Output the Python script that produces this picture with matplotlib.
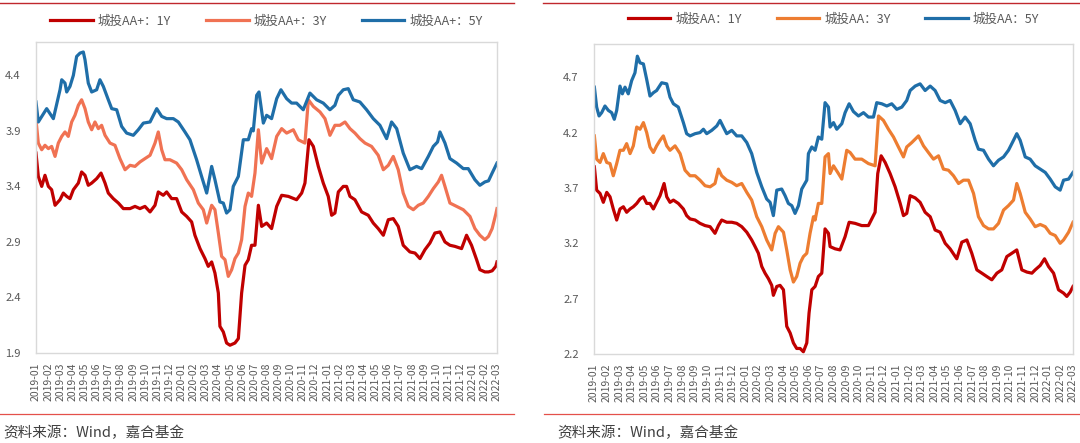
import matplotlib
matplotlib.use("Agg")
import matplotlib.pyplot as plt
from matplotlib.lines import Line2D
import pandas as pd

plt.rcParams['font.family'] = ['Noto Sans CJK SC', 'DejaVu Sans']

# x 轴：月份标签（2019-01 .. 2022-03），数据的 x 为距 2019-01 的月数
months = list(pd.date_range('2019-01-01', '2022-03-01', freq='MS').strftime('%Y-%m'))

# ---- 左图：城投AA+ ----
aap_1y_x = [0.00, 0.19, 0.47, 0.74, 1.02, 1.29, 1.57, 1.98, 2.25, 2.53, 2.80, 3.08, 3.49, 3.76, 4.04, 4.31,
            4.59, 5.00, 5.36, 5.69, 5.96, 6.37, 6.79, 7.20, 7.75, 8.16, 8.57, 8.98, 9.40, 9.81, 10.08, 10.49,
            10.77, 11.18, 11.59, 12.01, 12.42, 12.83, 13.10, 13.52, 13.93, 14.20, 14.48, 14.75, 15.03, 15.16,
            15.44, 15.71, 15.99, 16.40, 16.68, 16.95, 17.23, 17.50, 17.77, 18.05,
            18.33, 18.60, 19.01, 19.42, 19.84, 20.25, 20.80, 21.48, 21.90, 22.17, 22.50, 22.86, 23.27, 23.68,
            24.09, 24.37, 24.64, 24.92, 25.33, 25.60, 25.88, 26.29, 26.84, 27.39, 27.80, 28.21, 28.63, 29.04,
            29.45, 29.86, 30.27, 30.82, 31.24, 31.65, 32.06, 32.47, 32.88, 33.30, 33.71, 34.12, 34.53, 35.08,
            35.49, 35.90, 36.32, 36.59, 37.00, 37.30, 37.60, 37.90, 38.00]
aap_1y = [3.70, 3.49, 3.40, 3.50, 3.40, 3.37, 3.23, 3.28, 3.34, 3.31, 3.29, 3.37, 3.43, 3.53, 3.50, 3.41,
          3.43, 3.47, 3.52, 3.43, 3.34, 3.29, 3.25, 3.20, 3.20, 3.22, 3.20, 3.22, 3.17, 3.23, 3.35, 3.32,
          3.35, 3.29, 3.29, 3.17, 3.13, 3.08, 2.96, 2.84, 2.75, 2.68, 2.72, 2.62, 2.44, 2.14,
          2.09, 1.99, 1.97, 1.99, 2.03, 2.44, 2.69, 2.74, 2.87, 2.87,
          3.23, 3.04, 3.07, 3.02, 3.22, 3.32, 3.31, 3.28, 3.34, 3.43, 3.82, 3.76, 3.58, 3.43,
          3.31, 3.14, 3.16, 3.35, 3.40, 3.40, 3.31, 3.28, 3.17, 3.14, 3.07, 3.02, 2.96, 3.10,
          3.11, 3.04, 2.87, 2.81, 2.80, 2.75, 2.83, 2.89, 2.98, 2.99, 2.90, 2.87, 2.86, 2.84,
          2.96, 2.87, 2.74, 2.65, 2.63, 2.63, 2.64, 2.68, 2.72]

aap_3y_x = [0.00, 0.19, 0.47, 0.74, 1.02, 1.29, 1.57, 1.84, 2.12, 2.39, 2.66, 2.94, 3.21, 3.49, 3.76, 4.04,
            4.31, 4.59, 4.86, 5.14, 5.41, 5.69, 6.10, 6.51, 6.92, 7.34, 7.75, 8.16, 8.57, 8.98, 9.40, 9.81,
            10.08, 10.36, 10.63, 11.04, 11.59, 12.01, 12.42, 12.97, 13.38, 13.79, 14.07, 14.48, 14.75, 15.03,
            15.30, 15.58, 15.85, 16.13, 16.40, 16.68, 16.95, 17.23, 17.50, 17.77, 18.05,
            18.33, 18.60, 19.01, 19.42, 19.84, 20.25, 20.66, 21.21, 21.62, 22.17, 22.45, 22.86, 23.41, 23.82,
            24.23, 24.64, 25.05, 25.47, 25.88, 26.29, 26.70, 27.12, 27.66, 28.21, 28.63, 29.04, 29.45, 29.86,
            30.27, 30.69, 31.10, 31.51, 31.92, 32.34, 32.75, 33.16, 33.43, 33.71, 34.12, 34.67, 35.22, 35.77,
            36.18, 36.59, 37.00, 37.30, 37.60, 37.90, 38.00]
aap_3y = [4.00, 3.79, 3.73, 3.77, 3.74, 3.76, 3.67, 3.79, 3.85, 3.89, 3.85, 3.98, 4.04, 4.13, 4.18, 4.10,
          3.98, 3.91, 3.98, 3.92, 3.95, 3.86, 3.79, 3.77, 3.65, 3.55, 3.59, 3.58, 3.62, 3.65, 3.68, 3.79,
          3.89, 3.73, 3.64, 3.64, 3.61, 3.55, 3.46, 3.37, 3.25, 3.19, 3.07, 3.23, 3.19, 2.98,
          2.77, 2.74, 2.59, 2.65, 2.75, 2.80, 2.92, 3.22, 3.34, 3.31, 3.52,
          3.91, 3.61, 3.74, 3.65, 3.85, 3.92, 3.88, 3.91, 3.82, 3.79, 4.18, 4.12, 4.07, 4.01,
          3.86, 3.95, 3.95, 3.98, 3.92, 3.88, 3.83, 3.79, 3.76, 3.68, 3.55, 3.59, 3.67, 3.55,
          3.34, 3.22, 3.19, 3.23, 3.25, 3.31, 3.38, 3.44, 3.50, 3.40, 3.25, 3.22, 3.19, 3.13,
          3.02, 2.96, 2.92, 2.95, 3.02, 3.15, 3.20]

aap_5y_x = [0.00, 0.19, 0.88, 1.43, 1.98, 2.12, 2.39, 2.53, 2.80, 3.08, 3.35, 3.63, 3.90, 4.04, 4.31, 4.59,
            5.00, 5.27, 5.55, 5.96, 6.24, 6.65, 7.06, 7.47, 8.02, 8.43, 8.85, 9.40, 9.95, 10.36, 10.77, 11.32,
            11.73, 12.28, 12.69, 13.24, 13.65, 14.07, 14.48, 14.75, 15.16, 15.44, 15.71, 15.99, 16.26, 16.68,
            17.09, 17.50, 17.77, 17.91, 18.19,
            18.38, 18.74, 19.01, 19.42, 19.84, 20.19, 20.66, 21.07, 21.48, 22.03, 22.58, 23.13, 23.68, 24.23,
            24.64, 24.92, 25.33, 25.74, 26.15, 26.70, 27.25, 27.80, 28.35, 28.90, 29.31, 29.73, 30.27, 30.82,
            31.37, 31.79, 32.34, 32.75, 33.10, 33.30, 33.71, 34.12, 34.67, 35.22, 35.63, 36.18, 36.59, 37.00,
            37.30, 37.60, 38.00]
aap_5y = [4.16, 3.98, 4.10, 4.01, 4.27, 4.36, 4.33, 4.25, 4.30, 4.40, 4.57, 4.60, 4.61, 4.54, 4.33, 4.25,
          4.27, 4.36, 4.30, 4.18, 4.10, 4.09, 3.94, 3.88, 3.86, 3.91, 3.97, 3.98, 4.10, 4.03, 4.01, 4.01,
          3.98, 3.89, 3.82, 3.64, 3.49, 3.34, 3.58, 3.46, 3.26, 3.25, 3.16, 3.19, 3.40, 3.49,
          3.82, 3.82, 3.92, 3.90, 4.22,
          4.25, 3.97, 4.04, 4.01, 4.19, 4.27, 4.19, 4.15, 4.15, 4.09, 4.24, 4.18, 4.15, 4.09,
          4.13, 4.22, 4.27, 4.28, 4.18, 4.16, 4.09, 4.01, 3.95, 3.83, 3.98, 3.92, 3.70, 3.55,
          3.58, 3.56, 3.67, 3.76, 3.80, 3.89, 3.79, 3.65, 3.61, 3.56, 3.56, 3.46, 3.41, 3.44,
          3.45, 3.52, 3.61]

# ---- 右图：城投AA ----
aa_1y_x = [0.03, 0.21, 0.48, 0.74, 1.01, 1.27, 1.53, 1.80, 2.06, 2.33, 2.59, 2.86, 3.12, 3.39, 3.65, 3.92,
           4.18, 4.44, 4.71, 4.97, 5.24, 5.56, 5.77, 6.03, 6.30, 6.69, 7.09, 7.35, 7.62, 8.02, 8.41, 8.81,
           9.21, 9.60, 9.87, 10.13, 10.53, 10.93, 11.32, 11.72, 12.12, 12.51, 12.78, 13.04, 13.31, 13.57,
           13.84, 14.10, 14.23, 14.50, 14.76, 15.03, 15.29, 15.56, 15.82, 16.08, 16.35, 16.61, 16.88, 17.06,
           17.28, 17.54, 17.80, 18.07, 18.33, 18.60,
           18.73, 19.13, 19.52, 19.92, 20.24, 20.71, 21.24, 21.77, 22.30, 22.51, 22.78, 23.10, 23.49, 23.89,
           24.29, 24.55, 24.81, 25.08, 25.48, 25.87, 26.27, 26.67, 27.06, 27.46, 27.86, 28.25, 28.78, 29.18,
           29.58, 29.97, 30.37, 30.77, 31.16, 31.56, 31.96, 32.35, 32.75, 33.15, 33.54, 33.94, 34.34, 34.74,
           35.00, 35.40, 35.74, 36.06, 36.46, 36.85, 37.25, 37.51, 37.78, 38.00]
aa_1y = [3.89, 3.68, 3.65, 3.57, 3.66, 3.62, 3.51, 3.41, 3.51, 3.53, 3.48, 3.51, 3.53, 3.56, 3.60, 3.62,
         3.56, 3.56, 3.51, 3.57, 3.63, 3.74, 3.62, 3.57, 3.59, 3.56, 3.51, 3.45, 3.42, 3.41, 3.38, 3.36,
         3.35, 3.29, 3.36, 3.41, 3.39, 3.39, 3.38, 3.35, 3.30, 3.23, 3.17, 3.11, 2.99, 2.93,
         2.88, 2.82, 2.73, 2.81, 2.82, 2.78, 2.45, 2.39, 2.30, 2.25, 2.25, 2.22, 2.30, 2.57,
         2.78, 2.81, 2.90, 2.93, 3.33, 3.29,
         3.17, 3.15, 3.14, 3.26, 3.39, 3.38, 3.36, 3.36, 3.48, 3.83, 3.99, 3.93, 3.83, 3.71,
         3.56, 3.45, 3.47, 3.63, 3.61, 3.57, 3.48, 3.44, 3.32, 3.30, 3.20, 3.15, 3.06, 3.21,
         3.23, 3.11, 2.96, 2.93, 2.90, 2.87, 2.93, 2.96, 3.08, 3.11, 3.14, 2.96, 2.94, 2.93,
         2.96, 3.00, 3.06, 2.99, 2.93, 2.78, 2.75, 2.72, 2.76, 2.81]

aa_3y_x = [0.03, 0.21, 0.48, 0.74, 1.01, 1.27, 1.53, 1.80, 2.06, 2.33, 2.59, 2.86, 3.12, 3.39, 3.65, 3.92,
           4.18, 4.44, 4.71, 4.97, 5.24, 5.50, 5.77, 6.03, 6.43, 6.83, 7.22, 7.62, 8.02, 8.41, 8.81, 9.21,
           9.60, 9.87, 10.13, 10.53, 10.93, 11.32, 11.72, 12.12, 12.51, 12.91, 13.31, 13.70, 14.10, 14.37,
           14.63, 15.03, 15.29, 15.56, 15.82, 16.08, 16.35, 16.61, 16.88, 17.14, 17.41, 17.54, 17.80, 18.07,
           18.33, 18.60,
           18.73, 19.00, 19.39, 19.66, 20.05, 20.32, 20.71, 21.24, 21.77, 22.30, 22.57, 22.96, 23.36, 23.76,
           24.15, 24.55, 24.81, 25.21, 25.74, 26.14, 26.53, 26.93, 27.33, 27.72, 28.12, 28.52, 28.92, 29.31,
           29.71, 30.11, 30.50, 30.90, 31.30, 31.69, 32.09, 32.49, 32.88, 33.28, 33.54, 33.81, 34.21, 34.60,
           35.00, 35.40, 35.80, 36.19, 36.59, 36.98, 37.25, 37.65, 38.00]
aa_3y = [4.17, 3.96, 3.93, 4.01, 3.93, 3.92, 3.81, 3.92, 4.04, 4.04, 4.10, 4.01, 4.08, 4.25, 4.23, 4.29,
         4.20, 4.07, 4.02, 4.08, 4.13, 4.17, 4.08, 4.04, 4.08, 4.01, 3.86, 3.81, 3.81, 3.77, 3.72, 3.71,
         3.74, 3.87, 3.81, 3.77, 3.75, 3.72, 3.74, 3.66, 3.59, 3.44, 3.35, 3.23, 3.14, 3.29,
         3.35, 3.30, 3.14, 2.96, 2.85, 2.90, 3.02, 3.08, 3.11, 3.29, 3.44, 3.41, 3.56, 3.56,
         3.98, 4.01,
         3.83, 3.90, 3.83, 3.78, 4.04, 4.02, 3.96, 3.96, 3.92, 3.90, 4.35, 4.31, 4.23, 4.16,
         4.07, 3.98, 4.07, 4.11, 4.17, 4.08, 4.02, 3.96, 3.99, 3.87, 3.86, 3.81, 3.74, 3.77,
         3.77, 3.65, 3.44, 3.36, 3.33, 3.33, 3.38, 3.50, 3.54, 3.59, 3.74, 3.65, 3.48, 3.42,
         3.35, 3.37, 3.35, 3.29, 3.27, 3.20, 3.23, 3.30, 3.39]

aa_5y_x = [0.03, 0.21, 0.40, 0.61, 0.87, 1.14, 1.40, 1.61, 1.80, 2.06, 2.25, 2.46, 2.72, 2.99, 3.25, 3.44,
           3.65, 3.92, 4.18, 4.44, 4.71, 4.97, 5.37, 5.77, 6.03, 6.30, 6.69, 7.09, 7.35, 7.62, 8.02, 8.41,
           8.68, 8.94, 9.34, 9.74, 10.00, 10.26, 10.53, 10.93, 11.32, 11.72, 12.12, 12.51, 12.91, 13.31,
           13.70, 13.97, 14.23, 14.50, 14.89, 15.16, 15.42, 15.69, 15.95, 16.22, 16.48, 16.88, 17.01, 17.28,
           17.54, 17.80, 18.07, 18.33, 18.60,
           18.73, 19.00, 19.26, 19.66, 19.92, 20.24, 20.58, 20.98, 21.38, 21.77, 22.17, 22.43, 22.83, 23.23,
           23.62, 24.02, 24.42, 24.81, 25.08, 25.48, 25.87, 26.27, 26.67, 27.06, 27.46, 27.86, 28.25, 28.65,
           29.05, 29.44, 29.84, 30.24, 30.50, 30.90, 31.30, 31.69, 32.09, 32.49, 32.88, 33.28, 33.54, 33.81,
           34.21, 34.60, 35.00, 35.40, 35.80, 36.19, 36.59, 36.98, 37.25, 37.65, 38.00]
aa_5y = [4.61, 4.43, 4.35, 4.38, 4.44, 4.40, 4.38, 4.32, 4.40, 4.62, 4.55, 4.61, 4.55, 4.67, 4.74, 4.89,
         4.83, 4.82, 4.68, 4.53, 4.56, 4.58, 4.65, 4.64, 4.52, 4.46, 4.43, 4.29, 4.19, 4.17, 4.19, 4.20,
         4.23, 4.19, 4.22, 4.26, 4.31, 4.25, 4.19, 4.22, 4.17, 4.17, 4.11, 4.01, 3.84, 3.71,
         3.60, 3.57, 3.45, 3.68, 3.69, 3.63, 3.56, 3.54, 3.47, 3.54, 3.69, 3.77, 4.01, 4.07,
         4.04, 4.16, 4.14, 4.47, 4.43,
         4.25, 4.29, 4.23, 4.28, 4.38, 4.46, 4.39, 4.35, 4.38, 4.34, 4.34, 4.47, 4.46, 4.44,
         4.46, 4.41, 4.43, 4.49, 4.58, 4.62, 4.64, 4.58, 4.62, 4.58, 4.49, 4.47, 4.49, 4.40,
         4.28, 4.34, 4.28, 4.13, 4.05, 4.04, 3.96, 3.90, 3.95, 3.98, 4.04, 4.13, 4.19, 4.13,
         3.98, 3.96, 3.90, 3.87, 3.84, 3.78, 3.71, 3.68, 3.77, 3.78, 3.84]

RED = '#C00000'
BLUE = '#1F6EA8'
GRAY = '#595959'


def draw_panel(ax, series, ylim, yticks, legend_y):
    for x, y, color, label in series:
        ax.plot(x, y, color=color, lw=2.3, label=label, solid_joinstyle='round')
    ax.set_xlim(0, 38)
    ax.set_ylim(*ylim)
    ax.set_yticks(yticks)
    ax.set_yticklabels([f"{t:.1f}" for t in yticks])
    ax.set_xticks(range(len(months)))
    ax.set_xticklabels(months, rotation=90)
    ax.tick_params(axis='both', length=0, colors=GRAY, labelsize=7.5)
    ax.tick_params(axis='y', pad=11, labelsize=8)
    ax.tick_params(axis='x', pad=7)
    for sp in ax.spines.values():
        sp.set_color('#D9D9D9')
        sp.set_linewidth(1.0)
    leg = ax.legend(loc='center', bbox_to_anchor=(0.5, legend_y), ncol=3, frameon=False,
                    fontsize=9, handlelength=3.4, handletextpad=0.4, columnspacing=2.8)
    for t in leg.get_texts():
        t.set_color(GRAY)


fig = plt.figure(figsize=(10.8, 4.43), dpi=100)

ax1 = fig.add_axes([36 / 1080, 1 - 353 / 443, 461 / 1080, 311 / 443])
draw_panel(ax1, [(aap_1y_x, aap_1y, RED, '城投AA+：1Y'),
                 (aap_3y_x, aap_3y, '#F07253', '城投AA+：3Y'),
                 (aap_5y_x, aap_5y, BLUE, '城投AA+：5Y')],
           (1.9, 4.7), [1.9, 2.4, 2.9, 3.4, 3.9, 4.4], 1.0675)

ax2 = fig.add_axes([594 / 1080, 1 - 354 / 443, 479 / 1080, 310 / 443])
draw_panel(ax2, [(aa_1y_x, aa_1y, RED, '城投AA：1Y'),
                 (aa_3y_x, aa_3y, '#ED7D31', '城投AA：3Y'),
                 (aa_5y_x, aa_5y, BLUE, '城投AA：5Y')],
           (2.2, 5.0), [2.2, 2.7, 3.2, 3.7, 4.2, 4.7], 1.08)

# 顶部与底部的红色分隔线
for x0, x1 in [(0, 514), (543, 1080)]:
    fig.add_artist(Line2D([x0 / 1080, x1 / 1080], [1 - 3 / 443] * 2, transform=fig.transFigure,
                          color='#C0282D', lw=1.0))
for x0, x1 in [(0, 514), (544, 1080)]:
    fig.add_artist(Line2D([x0 / 1080, x1 / 1080], [1 - 414 / 443] * 2, transform=fig.transFigure,
                          color='#E4504A', lw=0.9))

fig.text(3 / 1080, 1 - 433 / 443, '资料来源：Wind，嘉合基金', va='center', fontsize=10.5, color='#404040')
fig.text(557 / 1080, 1 - 433 / 443, '资料来源：Wind，嘉合基金', va='center', fontsize=10.5, color='#404040')

fig.savefig('out.png', dpi=100)
